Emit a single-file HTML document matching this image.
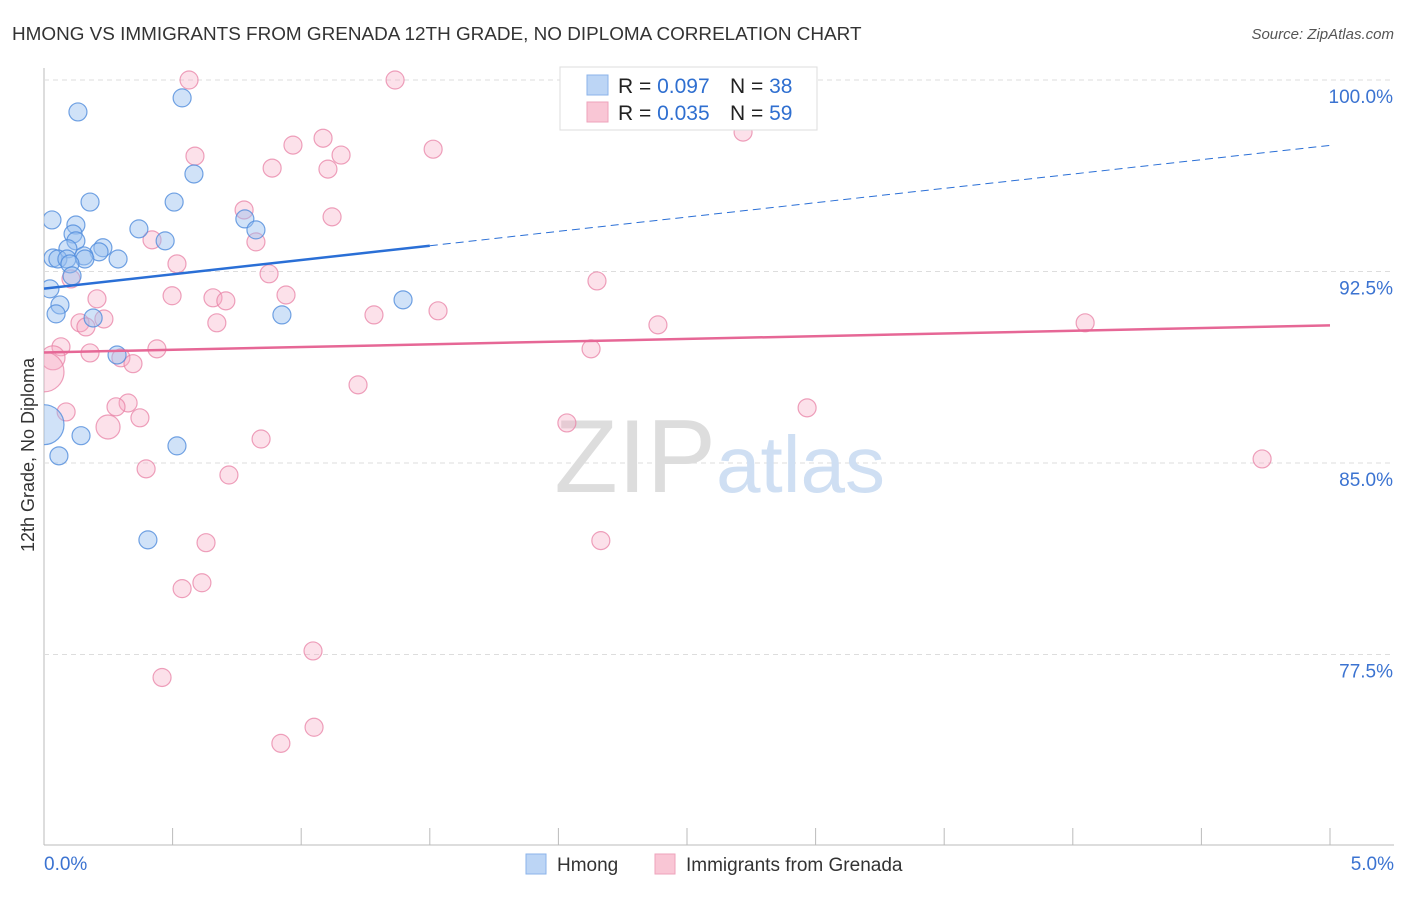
<!DOCTYPE html>
<html><head><meta charset="utf-8"><style>
body{margin:0;background:#fff;font-family:"Liberation Sans",sans-serif;}
svg text{font-family:"Liberation Sans",sans-serif;}
</style></head><body>
<svg id="chart" width="1406" height="892" xmlns="http://www.w3.org/2000/svg">
<defs><clipPath id="plotclip"><rect x="44" y="60" width="1360" height="785"/></clipPath></defs>
<text x="12" y="40" font-size="18.9" fill="#333">HMONG VS IMMIGRANTS FROM GRENADA 12TH GRADE, NO DIPLOMA CORRELATION CHART</text>
<text x="1394" y="39" font-size="15" fill="#555" font-style="italic" text-anchor="end">Source: ZipAtlas.com</text>
<text x="34" y="455" font-size="18" fill="#333" text-anchor="middle" transform="rotate(-90 34 455)">12th Grade, No Diploma</text>
<g id="grid"></g>
<text x="716" y="492" font-size="104" fill="#ddd" text-anchor="end" font-family="Liberation Serif">ZIP</text>
<text x="716" y="492" font-size="80" fill="#cfdff3">atlas</text>
<g id="points" clip-path="url(#plotclip)"></g>
<g id="lines"></g>
<g>
<rect x="560" y="67" width="257" height="63" fill="#fff" stroke="#ddd"/>
<rect x="587" y="75" width="21" height="20" fill="#bcd5f5" stroke="#8bb3ea"/>
<rect x="587" y="102" width="21" height="20" fill="#f9c6d5" stroke="#eea3bb"/>
<text x="618" y="93" font-size="21" fill="#222">R = <tspan fill="#2f6fd0">0.097</tspan></text>
<text x="730" y="93" font-size="21" fill="#222">N = <tspan fill="#2f6fd0">38</tspan></text>
<text x="618" y="120" font-size="21" fill="#222">R = <tspan fill="#2f6fd0">0.035</tspan></text>
<text x="730" y="120" font-size="21" fill="#222">N = <tspan fill="#2f6fd0">59</tspan></text>
</g>
<g>
<rect x="526" y="854" width="20" height="20" fill="#bcd5f5" stroke="#8bb3ea"/>
<text x="557" y="871" font-size="19" fill="#333">Hmong</text>
<rect x="655" y="854" width="20" height="20" fill="#f9c6d5" stroke="#eea3bb"/>
<text x="686" y="871" font-size="19" fill="#333">Immigrants from Grenada</text>
</g>
</svg>
<script>
const yTicks=[100,92.5,85,77.5];
const yTickLabels=["100.0%","92.5%","85.0%","77.5%"];
const xTickLabels=["0.0%","5.0%"];
const hmongX=[0.132,0.537,0.583,0.179,0.506,0.031,0.124,0.369,0.781,0.824,0.471,0.113,0.124,0.093,0.229,0.214,0.155,0.035,0.054,0.089,0.288,0.159,0.101,0.109,0.023,0.062,0.047,1.396,0.925,0.191,0.284,0.0,0.144,0.058,0.517,0.404];
const hmongY=[98.75,99.30,96.32,95.22,95.22,94.52,94.32,94.17,94.56,94.13,93.70,93.97,93.70,93.39,93.43,93.27,93.11,93.03,92.99,92.99,92.99,92.99,92.80,92.33,91.82,91.19,90.84,91.39,90.80,90.68,89.23,86.5,86.07,85.28,85.67,81.99];
const hmongR=[9,9,9,9,9,9,9,9,9,9,9,9,9,9,9,9,9,9,9,9,9,9,9,9,9,9,9,9,9,9,9,20,9,9,9,9];
const grenX=[0.564,1.365,2.718,1.513,0.587,0.968,1.085,1.155,0.887,1.104,0.778,1.120,0.824,0.420,0.517,0.875,2.150,0.105,0.498,0.206,0.657,0.707,0.941,1.532,1.283,0.672,0.233,0.140,0.163,2.387,4.048,0.066,0.035,0.439,0.179,2.127,0.299,0.346,0.0,1.221,2.967,0.086,0.327,0.280,0.373,0.249,2.033,0.844,0.397,0.719,4.736,0.630,2.165,0.614,0.537,1.046,0.459,1.050,0.921];
const grenY=[100,100,97.96,97.29,97.02,97.45,97.72,97.06,96.55,96.51,94.91,94.64,93.66,93.74,92.80,92.41,92.13,92.21,91.55,91.43,91.47,91.35,91.58,90.96,90.80,90.49,90.64,90.49,90.33,90.41,90.49,89.55,89.12,89.47,89.31,89.47,89.12,88.89,88.57,88.06,87.16,87.00,87.35,87.20,86.77,86.41,86.57,85.94,84.77,84.53,85.16,81.88,81.96,80.31,80.08,77.64,76.60,74.65,74.02];
const grenR=[9,9,9,9,9,9,9,9,9,9,9,9,9,9,9,9,9,9,9,9,9,9,9,9,9,9,9,9,9,9,9,9,12,9,9,9,9,9,20,9,9,9,9,9,9,12,9,9,9,9,9,9,9,9,9,9,9,9,9];
const hmongTrend=[91.83,93.51,97.44];
const grenTrend=[89.33,90.39];
const NS="http://www.w3.org/2000/svg";
const X0=44,X1=1330,Y100=80,PXPER=191.5/7.5;
const sx=v=>X0+(v/5)*(X1-X0);
const sy=v=>Y100+(100-v)*PXPER;
function mk(tag,attrs,parent){const e=document.createElementNS(NS,tag);for(const k in attrs)e.setAttribute(k,attrs[k]);parent.appendChild(e);return e;}
const grid=document.getElementById('grid');
mk('line',{x1:X0,y1:68,x2:X0,y2:845,stroke:'#bbb'},grid);
mk('line',{x1:X0,y1:845,x2:1394,y2:845,stroke:'#bbb'},grid);
yTicks.forEach((t,i)=>{
  const l=mk('line',{x1:X0,y1:sy(t),x2:1394,y2:sy(t),stroke:'#ddd','stroke-dasharray':'5,4'},grid);
  
  
  const tx=mk('text',{x:1393,y:sy(t)+23,'font-size':19,fill:'#3b73d1','text-anchor':'end'},grid);
  tx.textContent=yTickLabels[i];
  
  
});
for(let i=0;i<=10;i++){
  const x=sx(i*0.5);
  const tk=mk('line',{x1:x,y1:828,x2:x,y2:845,stroke:'#bbb'},grid);
  
  
}
[[0,'start',44],[5,'end',1394]].forEach((d,i)=>{
  const tx=mk('text',{x:d[2],y:870,'font-size':19,fill:'#3b73d1','text-anchor':d[1]},grid);
  tx.textContent=xTickLabels[i];
  
  
});
const pts=document.getElementById('points');
grenX.forEach((v,i)=>{
  const c=mk('circle',{cx:sx(v),cy:sy(grenY[i]),r:grenR[i],fill:'rgba(245,170,195,0.35)',stroke:'rgba(232,130,165,0.75)','stroke-width':1.2},pts);
  
  
});
hmongX.forEach((v,i)=>{
  const c=mk('circle',{cx:sx(v),cy:sy(hmongY[i]),r:hmongR[i],fill:'rgba(150,190,240,0.45)',stroke:'rgba(80,140,220,0.8)','stroke-width':1.2},pts);
  
  
});
const lines=document.getElementById('lines');
let l1=mk('line',{x1:sx(0),y1:sy(hmongTrend[0]),x2:sx(1.5),y2:sy(hmongTrend[1]),stroke:'#2a6fd6','stroke-width':2.5},lines);


let l2=mk('line',{x1:sx(1.5),y1:sy(hmongTrend[1]),x2:sx(5),y2:sy(hmongTrend[2]),stroke:'#2a6fd6','stroke-width':1,'stroke-dasharray':'8,5'},lines);


let l3=mk('line',{x1:sx(0),y1:sy(grenTrend[0]),x2:sx(5),y2:sy(grenTrend[1]),stroke:'#e66796','stroke-width':2.5},lines);


</script>
</body></html>
